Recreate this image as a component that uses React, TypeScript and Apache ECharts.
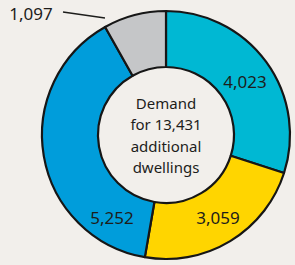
import React, { useEffect, useRef } from "react";
import * as echarts from "echarts";

const categories = ["Segment A", "Segment B", "Segment C", "Segment D"];
const values = [4023, 3059, 5252, 1097];
const colors = ["#00b8d3", "#ffd500", "#009ddb", "#c5c6c8"];
const centerLines = ["Demand", "for {total}", "additional", "dwellings"];

const labelPos: Record<number, [number, number]> = {
  0: [245, 81],
  1: [218, 217],
  2: [112, 217],
  3: [31, 13],
};

const fmt = (n: number) => n.toLocaleString("en-US");

export default function App() {
  const ref = useRef<HTMLDivElement>(null);
  useEffect(() => {
    if (!ref.current) return;
    const chart = echarts.init(ref.current, undefined, { renderer: "svg" });
    const total = values.reduce((a, b) => a + b, 0);
    const font = "'Noto Sans', sans-serif";
    chart.setOption({
      animation: false,
      backgroundColor: "#f2efeb",
      series: [
        {
          type: "pie",
          center: [166, 135],
          radius: [68, 124],
          startAngle: 90,
          clockwise: true,
          avoidLabelOverlap: false,
          itemStyle: { borderColor: "#161616", borderWidth: 2.2 },
          label: {
            show: true,
            position: "inside",
            formatter: (p: any) => fmt(p.value),
            fontFamily: font,
            fontSize: 17,
            color: "#1d1d1b",
          },
          labelLine: { show: false },
          labelLayout: (p: any) => {
            const pos = labelPos[p.dataIndex];
            const out: any = {
              x: pos[0],
              y: pos[1],
              align: "center",
              verticalAlign: "middle",
            };
            if (p.dataIndex === 3) {
              out.labelLinePoints = [
                [105, 18],
                [63, 12],
                [63, 12],
              ];
            }
            return out;
          },
          emphasis: { disabled: true },
          data: values.map((v, i) => ({
            name: categories[i],
            value: v,
            itemStyle: { color: colors[i] },
            ...(i === 3
              ? {
                  label: { position: "outside" },
                  labelLine: {
                    show: true,
                    length: 10,
                    length2: 10,
                    lineStyle: { color: "#1d1d1b", width: 1.3 },
                  },
                }
              : {}),
          })),
        },
      ],
      graphic: [
        {
          type: "text",
          x: 166,
          y: 135,
          style: {
            text: centerLines.join("\n").replace("{total}", fmt(total)),
            fontFamily: font,
            fontSize: 15,
            lineHeight: 21.5,
            fill: "#1d1d1b",
            align: "center",
            verticalAlign: "middle",
          },
        },
      ],
    });
    return () => chart.dispose();
  }, []);
  return (
    <div
      ref={ref}
      style={{ position: "fixed", left: 0, top: 0, width: 295, height: 265 }}
    />
  );
}
